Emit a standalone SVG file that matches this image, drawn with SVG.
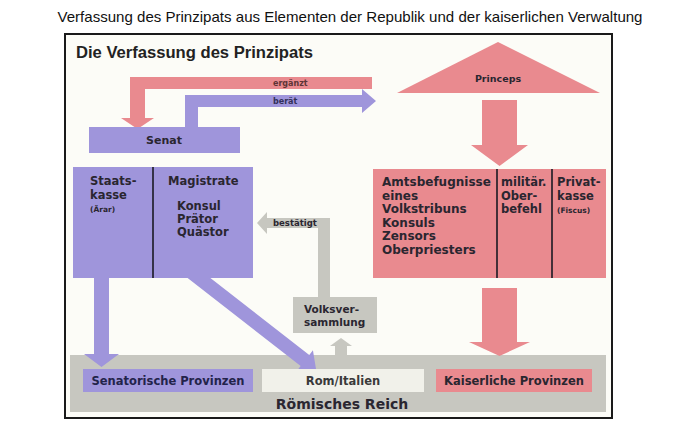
<svg xmlns="http://www.w3.org/2000/svg" width="700" height="435" viewBox="0 0 700 435">
<style>
.cap{font-family:"Liberation Sans",Arial,sans-serif;font-size:15px;fill:#111}
.head{font-family:"Liberation Sans",Arial,sans-serif;font-size:16px;font-weight:bold;fill:#222}
.t{font-family:"DejaVu Sans","Liberation Sans",sans-serif;font-weight:bold;font-size:11.5px;fill:#2a2630}
.r{font-size:12px}
.s{font-size:7.5px}
.lbl{font-size:8px}
.blue{fill:#9f95db}
.red{fill:#e98a8f}
.grey{fill:#c7c7c0}
.light{fill:#f1f1ea}
.div{stroke:#1a1a22;stroke-width:1.6}
</style>
<rect x="0" y="0" width="700" height="435" fill="#ffffff"/>
<text class="cap" x="350" y="22" text-anchor="middle" textLength="585" lengthAdjust="spacingAndGlyphs">Verfassung des Prinzipats aus Elementen der Republik und der kaiserlichen Verwaltung</text>
<rect x="65" y="34" width="547" height="384" fill="#fcfcf7" stroke="#1a1a1a" stroke-width="2"/>
<text class="head" x="76" y="58" textLength="237" lengthAdjust="spacingAndGlyphs">Die Verfassung des Prinzipats</text>

<g id="reich">
<rect class="grey" x="70" y="355" width="536" height="57"/>
<text class="t" x="342" y="409" text-anchor="middle" style="font-size:14px">Römisches Reich</text>
</g>

<g id="connectors">
<polygon class="red" points="372,77 130,77 130,118 121,118 137.5,129 154,118 145,118 145,89 372,89"/>
<text class="t lbl" x="273" y="86" style="fill:#5e3436">ergänzt</text>
<polygon class="blue" points="185,127 185,95 362,95 362,89 376,101 362,113 362,107 198,107 198,127"/>
<text class="t lbl" x="273" y="104" style="fill:#33305a">berät</text>
<polygon class="red" points="482,100 517,100 517,145 528,145 499.5,166 471,145 482,145"/>
<polygon class="red" points="482,288 517,288 517,342 530,342 499.5,356 469,342 482,342"/>
<polygon class="blue" points="94,278 109,278 109,354 119,354 101.5,367 84,354 94,354"/>
<polygon class="blue" points="187.6,278 210.4,278 309.25,354.9 312.93,350.14 316,369 296.97,370.66 300.65,365.9"/>
<polygon class="grey" points="330,297 330,218 267,218 267,212 257,223 267,234 267,228 318,228 318,297"/>
<text class="t lbl" x="273" y="226" style="font-size:8.5px">bestätigt</text>
<polygon class="grey" points="335,356 335,346 330,346 341,338 352,346 347,346 347,356"/>
</g>

<g id="princeps">
<polygon class="red" points="498,42 397,93 600,93"/>
<text class="t" x="498" y="82" text-anchor="middle" style="font-size:9.5px">Princeps</text>
</g>

<g id="senat">
<rect class="blue" x="89" y="127" width="151" height="26"/>
<text class="t" x="164" y="144" text-anchor="middle" style="font-size:11px">Senat</text>
</g>

<g id="republik">
<rect class="blue" x="73" y="167" width="180" height="111"/>
<line class="div" x1="153" y1="167" x2="153" y2="278"/>
<text class="t" x="90" y="185">Staats-</text>
<text class="t" x="90" y="198.5">kasse</text>
<text class="t s" x="90" y="212">(Ärar)</text>
<text class="t" x="168" y="185">Magistrate</text>
<text class="t" x="177" y="210">Konsul</text>
<text class="t" x="177" y="223">Prätor</text>
<text class="t" x="177" y="236">Quästor</text>
</g>

<g id="kaiser">
<rect class="red" x="373" y="169" width="233" height="109"/>
<line class="div" x1="497" y1="169" x2="497" y2="278"/>
<line class="div" x1="552" y1="169" x2="552" y2="278"/>
<text class="t r" x="382" y="186">Amtsbefugnisse</text>
<text class="t r" x="382" y="199.5">eines</text>
<text class="t r" x="382" y="213">Volkstribuns</text>
<text class="t r" x="382" y="226.5">Konsuls</text>
<text class="t r" x="382" y="240">Zensors</text>
<text class="t r" x="382" y="253.5">Oberpriesters</text>
<text class="t" x="501" y="186">militär.</text>
<text class="t" x="501" y="199.5">Ober-</text>
<text class="t" x="501" y="213">befehl</text>
<text class="t" x="557" y="186">Privat-</text>
<text class="t" x="557" y="199.5">kasse</text>
<text class="t s" x="557" y="213">(Fiscus)</text>
</g>

<g id="volksversammlung">
<rect class="grey" x="293" y="297" width="84" height="36"/>
<text class="t" x="304" y="313" style="font-size:10.5px">Volksver-</text>
<text class="t" x="304" y="326" style="font-size:10.5px">sammlung</text>
</g>

<g id="senatorische">
<rect class="blue" x="83" y="369" width="170" height="23"/>
<text class="t" x="168" y="385" text-anchor="middle" style="fill:#23234a">Senatorische Provinzen</text>
</g>

<g id="rom">
<rect class="light" x="262" y="369" width="162" height="23"/>
<text class="t" x="343" y="385" text-anchor="middle" style="font-weight:600;font-size:11.5px;fill:#3a3a3a">Rom/Italien</text>
</g>

<g id="kaiserliche">
<rect class="red" x="436" y="369" width="156" height="23"/>
<text class="t" x="514" y="385" text-anchor="middle">Kaiserliche Provinzen</text>
</g>
</svg>
